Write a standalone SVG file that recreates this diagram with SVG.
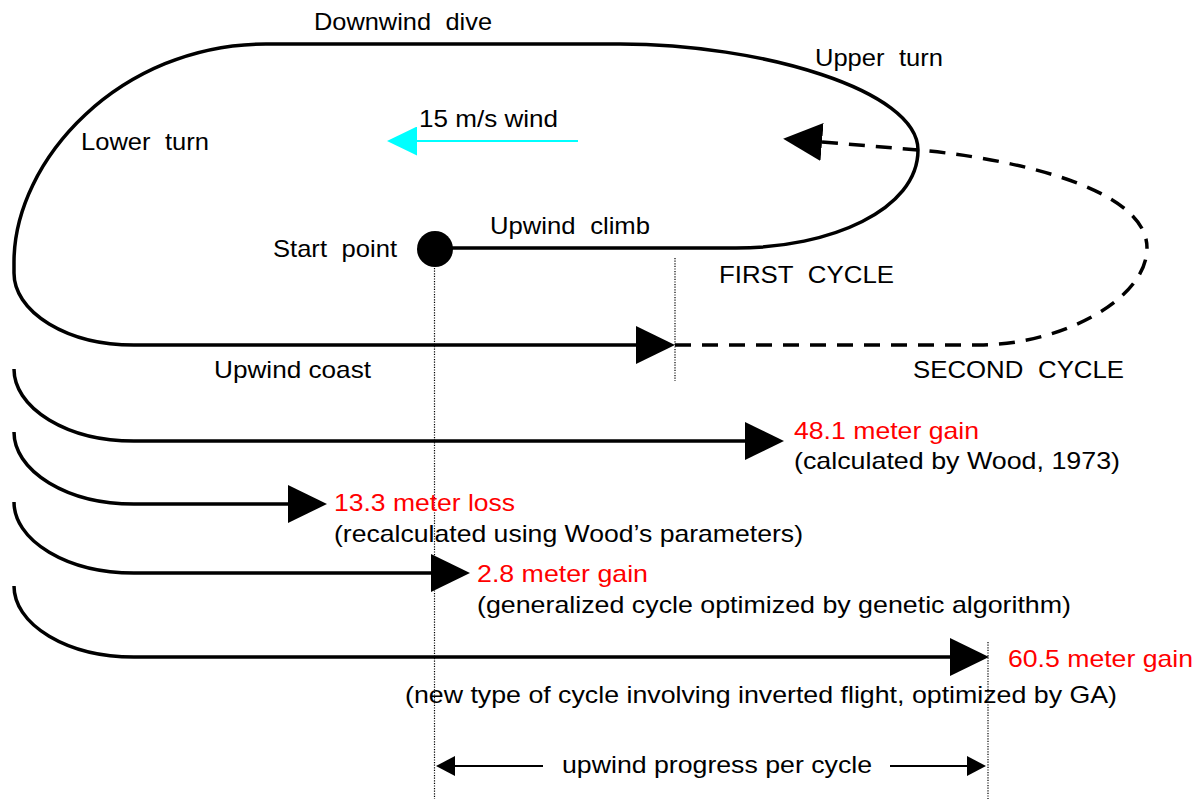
<svg xmlns="http://www.w3.org/2000/svg" width="1196" height="799" viewBox="0 0 1196 799">
  <style>
    text { font-family: "Liberation Sans", Arial, Helvetica, sans-serif; font-size: 24px; fill: #000; }
    text.red { fill: #ff0000; }
    text.wide { word-spacing: 7px; }
    .path { fill: none; stroke: #000; stroke-width: 3.5; }
    .dash { fill: none; stroke: #000; stroke-width: 3.5; stroke-dasharray: 16 11; }
    .thin { fill: none; stroke: #000; stroke-width: 2; }
    .dot { fill: none; stroke: #000; stroke-width: 1.2; stroke-dasharray: 1.2 1.4; }
    .wind { fill: none; stroke: #00ffff; stroke-width: 2; }
  </style>
  <defs>
    <marker id="head-lg" viewBox="0 0 39 38" refX="0" refY="19" markerWidth="39" markerHeight="38" markerUnits="userSpaceOnUse" orient="auto-start-reverse">
      <path d="M0,0 L39,19 L0,38 Z" fill="#000"/>
    </marker>
    <marker id="head-sm" viewBox="0 0 19 20" refX="0" refY="10" markerWidth="19" markerHeight="20" markerUnits="userSpaceOnUse" orient="auto-start-reverse">
      <path d="M0,0 L19,10 L0,20 Z" fill="#000"/>
    </marker>
    <marker id="head-wind" viewBox="0 0 30 29" refX="0" refY="14.5" markerWidth="30" markerHeight="29" markerUnits="userSpaceOnUse" orient="auto">
      <path d="M0,0 L30,14.5 L0,29 Z" fill="#00ffff"/>
    </marker>
  </defs>
  <rect width="1196" height="799" fill="#fff"/>

  <!-- reference lines -->
  <g id="guides">
    <line class="dot" x1="434.5" y1="268" x2="434.5" y2="799"/>
    <line class="dot" x1="675" y1="258" x2="675" y2="381"/>
    <line class="dot" x1="988" y1="642" x2="988" y2="799"/>
  </g>

  <!-- flight paths -->
  <g id="connectors">
    <!-- first cycle: climb, upper turn, dive, lower turn, coast -->
    <path class="path" marker-end="url(#head-lg)" d="M435,248 L736,248 C830,248 918,210 918,150 C918,90 760,44 620,44 L266,44 C120,44 14,160 14,262 L14,273 A120,72 0 0 0 134,345 L636,345"/>
    <!-- second cycle (dashed) -->
    <path class="dash" marker-start="url(#head-lg)" d="M822,142 L918,150 C1000,157 1147,185 1147,248"/>
    <path class="dash" d="M675,345 L979,345 C1060,345 1147,300 1147,248"/>
    <!-- comparison cycles -->
    <path class="path" marker-end="url(#head-lg)" d="M14,369 A120,72 0 0 0 134,441 L745,441"/>
    <path class="path" marker-end="url(#head-lg)" d="M14,432 A120,72 0 0 0 134,504 L288,504"/>
    <path class="path" marker-end="url(#head-lg)" d="M14,502 A120,71 0 0 0 134,573 L431,573"/>
    <path class="path" marker-end="url(#head-lg)" d="M14,586 A120,71 0 0 0 134,657 L950,657"/>
    <!-- wind direction -->
    <line class="wind" marker-end="url(#head-wind)" x1="578" y1="141" x2="417" y2="141"/>
    <!-- progress dimension -->
    <line class="thin" marker-end="url(#head-sm)" x1="543" y1="766" x2="455" y2="766"/>
    <line class="thin" marker-end="url(#head-sm)" x1="890" y1="766" x2="967" y2="766"/>
  </g>

  <g id="start-point">
    <circle cx="435" cy="249" r="18" fill="#000"/>
    <text class="wide" x="273" y="257" textLength="124" lengthAdjust="spacingAndGlyphs">Start point</text>
  </g>

  <g id="labels">
    <text class="wide" x="314" y="30" textLength="178" lengthAdjust="spacingAndGlyphs">Downwind dive</text>
    <text class="wide" x="815" y="66" textLength="128" lengthAdjust="spacingAndGlyphs">Upper turn</text>
    <text x="419" y="127" textLength="139" lengthAdjust="spacingAndGlyphs">15 m/s wind</text>
    <text class="wide" x="81" y="150" textLength="128" lengthAdjust="spacingAndGlyphs">Lower turn</text>
    <text class="wide" x="490" y="234" textLength="160" lengthAdjust="spacingAndGlyphs">Upwind climb</text>
    <text class="wide" x="719" y="283" textLength="175" lengthAdjust="spacingAndGlyphs">FIRST CYCLE</text>
    <text x="214" y="378" textLength="157" lengthAdjust="spacingAndGlyphs">Upwind coast</text>
    <text class="wide" x="913" y="378" textLength="211" lengthAdjust="spacingAndGlyphs">SECOND CYCLE</text>
  </g>

  <g id="result-wood">
    <text class="red" x="794" y="439" textLength="185" lengthAdjust="spacingAndGlyphs">48.1 meter gain</text>
    <text x="794" y="469" textLength="326" lengthAdjust="spacingAndGlyphs">(calculated by Wood, 1973)</text>
  </g>
  <g id="result-recalc">
    <text class="red" x="334" y="511" textLength="181" lengthAdjust="spacingAndGlyphs">13.3 meter loss</text>
    <text x="334" y="542" textLength="469" lengthAdjust="spacingAndGlyphs">(recalculated using Wood’s parameters)</text>
  </g>
  <g id="result-ga">
    <text class="red" x="477" y="582" textLength="171" lengthAdjust="spacingAndGlyphs">2.8 meter gain</text>
    <text x="477" y="613" textLength="594" lengthAdjust="spacingAndGlyphs">(generalized cycle optimized by genetic algorithm)</text>
  </g>
  <g id="result-inverted">
    <text class="red" x="1008" y="667" textLength="185" lengthAdjust="spacingAndGlyphs">60.5 meter gain</text>
    <text x="405" y="703" textLength="712" lengthAdjust="spacingAndGlyphs">(new type of cycle involving inverted flight, optimized by GA)</text>
  </g>
  <g id="progress">
    <text x="562" y="773" textLength="310" lengthAdjust="spacingAndGlyphs">upwind progress per cycle</text>
  </g>
</svg>
